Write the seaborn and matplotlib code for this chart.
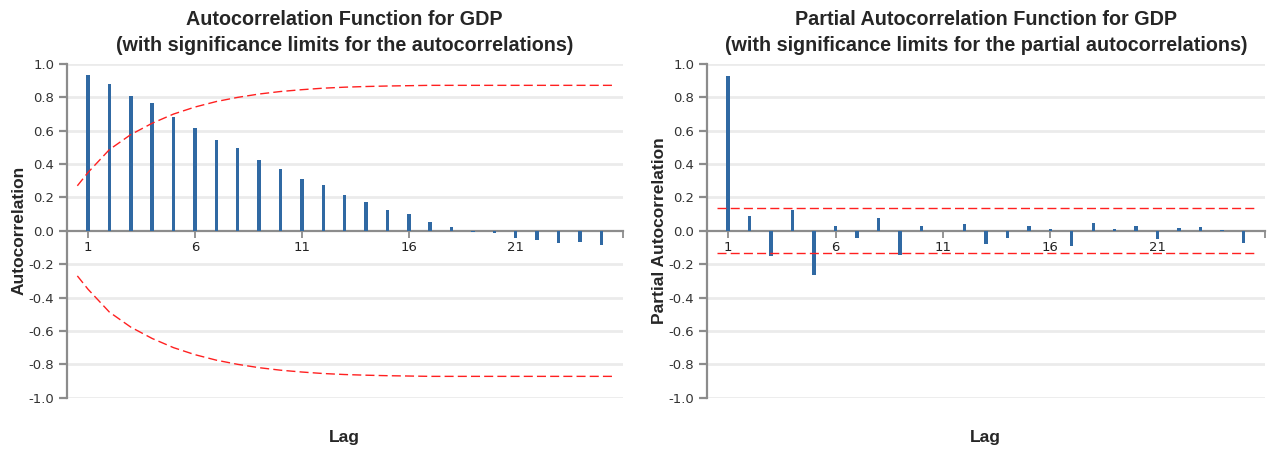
import matplotlib
matplotlib.use("Agg")
import matplotlib.pyplot as plt
import pandas as pd
import seaborn as sns

# ACF / PACF values
lags = list(range(1, 26))
acf = [0.934, 0.882, 0.810, 0.766, 0.681, 0.617, 0.545, 0.497, 0.425, 0.373,
       0.309, 0.273, 0.214, 0.172, 0.124, 0.100, 0.052, 0.026, -0.004, -0.014,
       -0.044, -0.054, -0.070, -0.066, -0.082]
pacf = [0.930, 0.090, -0.150, 0.126, -0.262, 0.032, -0.040, 0.080, -0.144, 0.028,
        0.0, 0.040, -0.076, -0.040, 0.030, 0.010, -0.092, 0.050, 0.010, 0.030,
        -0.050, 0.016, 0.024, 0.004, -0.072]

# significance limits
acf_band_lags = [0.5] + list(range(1, 26)) + [25.5]
acf_band = [0.27, 0.35, 0.487, 0.577, 0.645, 0.70, 0.742, 0.775, 0.80, 0.82,
            0.835, 0.846, 0.855, 0.861, 0.865, 0.868, 0.870, 0.872, 0.872, 0.872,
            0.872, 0.872, 0.872, 0.872, 0.872, 0.872, 0.872]
pacf_band_lags = [0.5, 25.5]
pacf_band = [0.134, 0.134]

xticks = [1, 6, 11, 16, 21]
yticks = [-1.0, -0.8, -0.6, -0.4, -0.2, 0.0, 0.2, 0.4, 0.6, 0.8, 1.0]

sns.set_style("white")
plt.rcParams['font.family'] = ['DejaVu Sans']

BAR = "#3069a3"
AXC = "#8c8c8c"
GRID = "#ebebeb"
TITLE_FONT = ['Liberation Sans', 'DejaVu Sans']

fig = plt.figure(figsize=(12.72, 4.49), dpi=100)
ax1 = fig.add_axes([0.0524, 0.1142, 0.4371, 0.7433])
ax2 = fig.add_axes([0.5556, 0.1142, 0.4389, 0.7433])

panels = [
    (ax1, acf, acf_band_lags, acf_band, "Autocorrelation",
     "Autocorrelation Function for GDP\n(with significance limits for the autocorrelations)"),
    (ax2, pacf, pacf_band_lags, pacf_band, "Partial Autocorrelation",
     "Partial Autocorrelation Function for GDP\n(with significance limits for the partial autocorrelations)"),
]

for ax, vals, blags, band, ylab, title in panels:
    df = pd.DataFrame({"lag": lags, "value": vals})
    for y in yticks:
        if y != 0.0:
            ax.axhline(y, color=GRID, lw=2, zorder=0)
    sns.barplot(data=df, x="lag", y="value", native_scale=True, width=0.16,
                color=BAR, saturation=1, errorbar=None, linewidth=0, ax=ax, zorder=3)
    up = pd.DataFrame({"lag": blags, "limit": band})
    lo = pd.DataFrame({"lag": blags, "limit": [-b for b in band]})
    for d in (up, lo):
        sns.lineplot(data=d, x="lag", y="limit", color="#ff2020", lw=1.0,
                     linestyle=(0, (6.5, 3)), ax=ax, zorder=4)

    ax.set_xlim(0, 26)
    ax.set_ylim(-1.0, 1.0)
    ax.spines['top'].set_visible(False)
    ax.spines['right'].set_visible(False)
    ax.spines['bottom'].set_position(('data', 0))
    for s in ('left', 'bottom'):
        ax.spines[s].set_color(AXC)
        ax.spines[s].set_linewidth(1.6)
        ax.spines[s].set_zorder(2)
    ax.set_xticks(xticks)
    ax.set_xticklabels([str(t) for t in xticks])
    ax.set_xticks([26], minor=True)
    ax.set_yticks(yticks)
    ax.set_yticklabels([f"{t:.1f}" for t in yticks])
    ax.tick_params(axis='x', which='both', bottom=True, direction='out', length=5,
                   width=1.3, color=AXC, labelsize=9.5, labelcolor="#222222", pad=2)
    ax.tick_params(axis='y', left=True, direction='out', length=6, width=1.6,
                   color=AXC, labelsize=9.5, labelcolor="#333333", pad=3)
    ax.set_xlabel("")
    ax.set_ylabel(ylab, fontsize=12.5, fontweight='bold', family=TITLE_FONT, labelpad=1)
    ax.set_title(title, fontsize=14.2, fontweight='bold', family=TITLE_FONT,
                 linespacing=1.5, pad=9)
    ax.text(0.5, -0.12, "Lag", transform=ax.transAxes, ha='center', va='center',
            fontsize=12.5, fontweight='bold', family=TITLE_FONT)

fig.savefig("out.png", dpi=100)
